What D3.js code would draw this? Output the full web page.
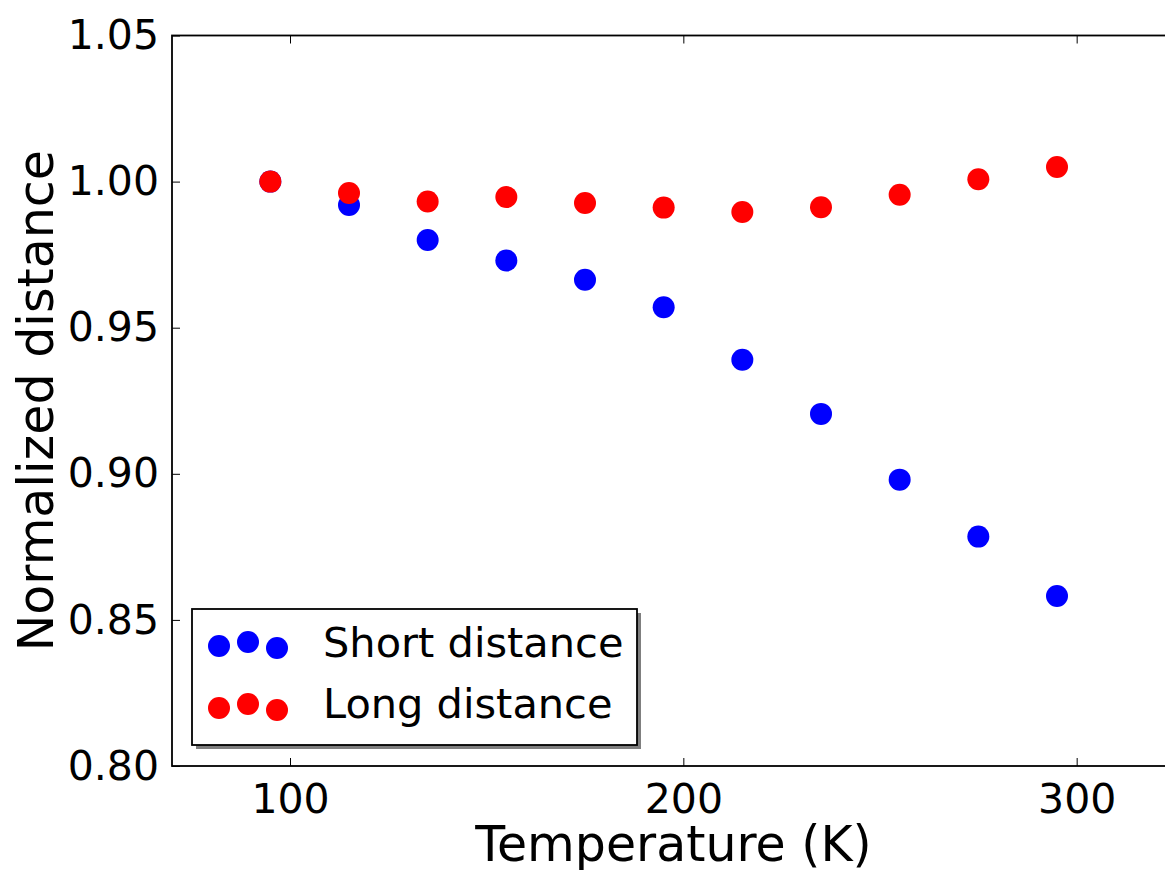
<!DOCTYPE html>
<html>
<head>
<meta charset="utf-8">
<script src="https://cdn.jsdelivr.net/npm/d3@7"></script>
<style>
  html, body { margin: 0; padding: 0; background: #fff; overflow: hidden; }
  svg { display: block; font-family: "DejaVu Sans", sans-serif; }
</style>
</head>
<body>
<div id="chart"></div>
<script>
// data
const temperatures = [95, 115, 135, 155, 175, 195, 215, 235, 255, 275, 295];
const shortDistance = [1.000, 0.992, 0.980, 0.973, 0.9664, 0.957, 0.939, 0.9205, 0.898, 0.8785, 0.8582];
const longDistance = [1.000, 0.9961, 0.9932, 0.9947, 0.9927, 0.9911, 0.9896, 0.9912, 0.9955, 1.0008, 1.005];
const xTicks = [100, 200, 300];
const yTicks = [0.80, 0.85, 0.90, 0.95, 1.00, 1.05];
const seriesNames = ["Short distance", "Long distance"];
const seriesColors = ["#0000ff", "#ff0000"];

const W = 1165, H = 870;
// axes box (right side runs past the canvas, as in the reference)
const margin = {top: 35.5, left: 172, bottom: 766, right: 1175};

const svg = d3.select("#chart").append("svg")
    .attr("width", W)
    .attr("height", H);

const x = d3.scaleLinear().domain([70, 325]).range([margin.left, margin.right]);
const y = d3.scaleLinear().domain([0.80, 1.05]).range([margin.bottom, margin.top]);

// axes with inward ticks
svg.append("g")
    .attr("transform", `translate(0,${margin.bottom})`)
    .call(d3.axisBottom(x).tickValues(xTicks).tickSizeInner(-8).tickSizeOuter(0).tickPadding(18))
    .call(g => g.select(".domain").remove());

svg.append("g")
    .attr("transform", `translate(0,${margin.top})`)
    .call(d3.axisTop(x).tickValues(xTicks).tickSizeInner(-8).tickSizeOuter(0).tickFormat(""))
    .call(g => g.select(".domain").remove());

svg.append("g")
    .attr("transform", `translate(${margin.left},0)`)
    .call(d3.axisLeft(y).tickValues(yTicks).tickFormat(d3.format(".2f")).tickSizeInner(-8).tickSizeOuter(0).tickPadding(13))
    .call(g => g.select(".domain").remove());

svg.selectAll(".tick line").attr("stroke", "#000").attr("stroke-width", 1);
svg.selectAll(".tick text").attr("font-size", 41).attr("fill", "#000")
    .attr("font-family", "DejaVu Sans");

// frame
svg.append("rect")
    .attr("x", margin.left)
    .attr("y", margin.top)
    .attr("width", margin.right - margin.left)
    .attr("height", margin.bottom - margin.top)
    .attr("fill", "none")
    .attr("stroke", "#000")
    .attr("stroke-width", 1.8);

// points
const series = [shortDistance, longDistance];
series.forEach((vals, i) => {
    svg.append("g").selectAll("circle")
        .data(temperatures.map((t, j) => ({t: t, v: vals[j]})))
        .enter()
        .append("circle")
        .attr("cx", d => x(d.t))
        .attr("cy", d => y(d.v))
        .attr("r", 11)
        .attr("fill", seriesColors[i]);
});

// axis labels
svg.append("text")
    .attr("x", (margin.left + margin.right) / 2)
    .attr("y", 861)
    .attr("text-anchor", "middle")
    .attr("font-size", 49)
    .text("Temperature (K)");

svg.append("text")
    .attr("transform", `translate(53,${(margin.top + margin.bottom) / 2}) rotate(-90)`)
    .attr("text-anchor", "middle")
    .attr("font-size", 49)
    .text("Normalized distance");

// legend
const legend = svg.append("g");
legend.append("rect")
    .attr("x", 196).attr("y", 613)
    .attr("width", 445).attr("height", 136)
    .attr("fill", "#000").attr("opacity", 0.5);
legend.append("rect")
    .attr("x", 192).attr("y", 609)
    .attr("width", 445).attr("height", 136)
    .attr("fill", "#fff").attr("stroke", "#000").attr("stroke-width", 1.8);

const dotX = [219, 248, 277];
const dotDy = [1, -3, 3];
seriesNames.forEach((name, i) => {
    const cy = 645 + i * 62;
    legend.append("g").selectAll("circle")
        .data(dotX)
        .enter()
        .append("circle")
        .attr("cx", d => d)
        .attr("cy", (d, k) => cy + dotDy[k])
        .attr("r", 11)
        .attr("fill", seriesColors[i]);
    legend.append("text")
        .attr("x", 323)
        .attr("y", 657 + i * 61)
        .attr("font-size", 41.5)
        .text(name);
});
</script>
</body>
</html>
